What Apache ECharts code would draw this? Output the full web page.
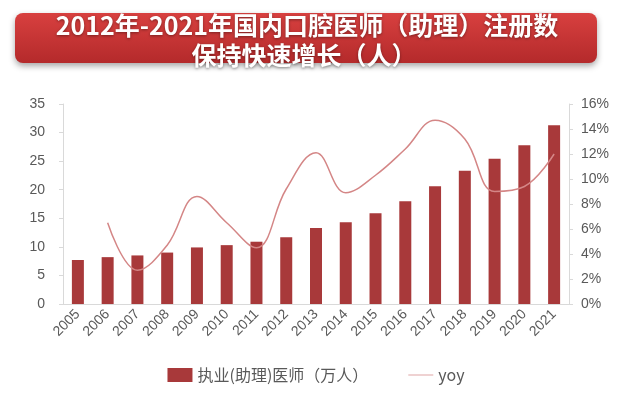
<!DOCTYPE html>
<html lang="zh">
<head>
    <meta charset="UTF-8">
    <title>口腔医师注册数</title>
    <script src="https://cdn.jsdelivr.net/npm/echarts@6/dist/echarts.min.js"></script>
    <style>
        body { margin: 0; background: #fff; }
    </style>
</head>
<body>
    <div id="chart" style="width: 632px; height: 397px;"></div>

    <script>
        // 数据
        var years = ["2005", "2006", "2007", "2008", "2009", "2010", "2011", "2012", "2013",
            "2014", "2015", "2016", "2017", "2018", "2019", "2020", "2021"]
        var doctors = [7.7, 8.2, 8.5, 9.0, 9.9, 10.3, 10.9, 11.7, 13.3,
            14.3, 15.9, 18.0, 20.6, 23.3, 25.4, 27.8, 31.3]
        var yoy = [null, 6.5, 2.7, 4.7, 8.6, 6.5, 4.5, 9.2, 12.1,
            8.9, 10.3, 12.4, 14.7, 13.2, 9.0, 9.4, 12.0]
        var leftTicks = [0, 35, 5]
        var rightTicks = [0, 16, 2]

        var chart = echarts.init(document.getElementById("chart"))
        var grey = "#595959"
        var axisGrey = "#d9d9d9"

        var option = {
            animation: false,
            graphic: [
                {
                    type: "rect",
                    shape: { x: 15, y: 13, width: 582, height: 50, r: 8 },
                    style: {
                        fill: new echarts.graphic.LinearGradient(0, 0, 0, 1, [
                            { offset: 0, color: "#d8403f" },
                            { offset: 1, color: "#b42a2b" }
                        ]),
                        shadowBlur: 6,
                        shadowOffsetY: 3,
                        shadowColor: "rgba(0,0,0,0.35)"
                    }
                },
                {
                    type: "text",
                    x: 307, y: 25,
                    style: {
                        text: "2012年-2021年国内口腔医师（助理）注册数",
                        fill: "#fff",
                        font: "bold 25px 'Noto Sans CJK SC'",
                        align: "center", verticalAlign: "middle",
                        textShadowBlur: 3, textShadowColor: "rgba(0,0,0,0.4)", textShadowOffsetY: 1
                    }
                },
                {
                    type: "text",
                    x: 304, y: 55,
                    style: {
                        text: "保持快速增长（人）",
                        fill: "#fff",
                        font: "bold 25px 'Noto Sans CJK SC'",
                        align: "center", verticalAlign: "middle",
                        textShadowBlur: 3, textShadowColor: "rgba(0,0,0,0.4)", textShadowOffsetY: 1
                    }
                }
            ],
            legend: {
                bottom: 9,
                left: "center",
                itemGap: 40,
                textStyle: { color: grey, fontSize: 16, fontFamily: "'Noto Sans CJK SC'" },
                data: [
                    { name: "执业(助理)医师（万人）", icon: "rect", itemWidth: 39, itemHeight: 6 },
                    { name: "yoy", icon: "path://M0,0 L40,0 L40,1.2 L0,1.2 Z", itemWidth: 39, itemHeight: 2 }
                ]
            },
            grid: { left: 63, right: 63, top: 104, bottom: 93 },
            xAxis: {
                type: "category",
                data: years,
                axisLine: { lineStyle: { color: axisGrey } },
                axisTick: { length: 5, lineStyle: { color: axisGrey } },
                axisLabel: {
                    color: grey, fontSize: 14, rotate: 45, margin: 8,
                    fontFamily: "Liberation Sans"
                }
            },
            yAxis: [
                {
                    type: "value",
                    min: leftTicks[0], max: leftTicks[1], interval: leftTicks[2],
                    splitLine: { show: false },
                    axisLine: { show: true, lineStyle: { color: axisGrey } },
                    axisTick: { show: true, length: 4, lineStyle: { color: axisGrey } },
                    axisLabel: { color: grey, fontSize: 14, margin: 18, fontFamily: "Liberation Sans" }
                },
                {
                    type: "value",
                    min: rightTicks[0], max: rightTicks[1], interval: rightTicks[2],
                    splitLine: { show: false },
                    axisLine: { show: true, lineStyle: { color: axisGrey } },
                    axisTick: { show: true, length: 4, lineStyle: { color: axisGrey } },
                    axisLabel: { color: grey, fontSize: 14, margin: 12, formatter: "{value}%", fontFamily: "Liberation Sans" }
                }
            ],
            series: [
                {
                    name: "执业(助理)医师（万人）",
                    type: "bar",
                    data: doctors,
                    barWidth: 12,
                    itemStyle: { color: "#a8393a" }
                },
                {
                    name: "yoy",
                    type: "line",
                    yAxisIndex: 1,
                    data: yoy,
                    smooth: 0.4,
                    showSymbol: false,
                    symbol: "none",
                    lineStyle: { color: "#d48686", width: 1.5 },
                    itemStyle: { color: "#d48686" }
                }
            ]
        }

        chart.setOption(option)
    </script>
</body>
</html>
